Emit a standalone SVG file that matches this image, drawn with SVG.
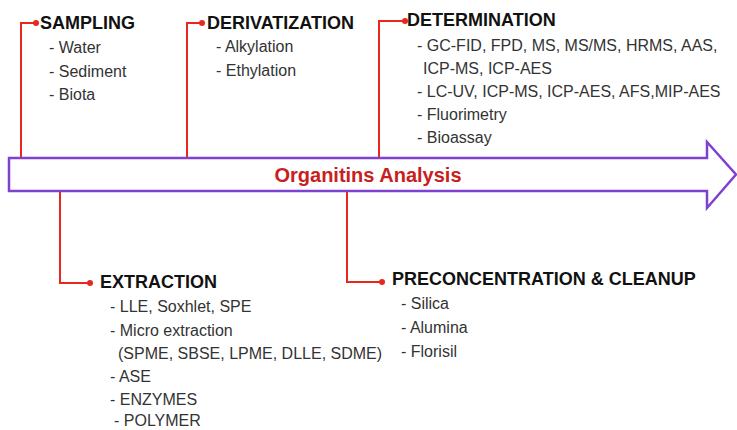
<svg xmlns="http://www.w3.org/2000/svg" width="737" height="430" viewBox="0 0 737 430">
<style>
.conn{fill:none;stroke:#e8281e;stroke-width:2}
.dot{fill:#e8281e}
.h{font-family:"Liberation Sans",Arial,sans-serif;font-weight:bold;font-size:18px;fill:#111}
.t{font-family:"Liberation Sans",Arial,sans-serif;font-size:16px;fill:#333}
.title{font-family:"Liberation Sans",Arial,sans-serif;font-weight:bold;font-size:20px;fill:#c8201e}
</style>
<rect width="737" height="430" fill="#fff"/>
<g id="connectors">
<polyline class="conn" points="21,158 21,23 36,23"/>
<circle class="dot" cx="36" cy="23" r="3"/>
<polyline class="conn" points="187,158 187,23 202,23"/>
<circle class="dot" cx="202" cy="23" r="3"/>
<polyline class="conn" points="379,160 379,21 405,21"/>
<circle class="dot" cx="405" cy="21" r="3"/>
<polyline class="conn" points="60,191 60,283 90,283"/>
<circle class="dot" cx="90" cy="283" r="3"/>
<polyline class="conn" points="347,191 347,282 382,282"/>
<circle class="dot" cx="382" cy="282" r="3"/>
</g>
<g id="arrow">
<polygon points="9,158 707,158 707,142 736,174.5 707,208 707,191 9,191" fill="#fff" stroke="#8040d0" stroke-width="2.5" stroke-linejoin="miter"/>
<text class="title" x="368" y="182" text-anchor="middle">Organitins Analysis</text>
</g>
<g id="sampling">
<text class="h" x="40" y="29">SAMPLING</text>
<text class="t" x="49" y="53">- Water</text>
<text class="t" x="49" y="77">- Sediment</text>
<text class="t" x="49" y="100">- Biota</text>
</g>
<g id="derivatization">
<text class="h" x="207" y="29">DERIVATIZATION</text>
<text class="t" x="216" y="52">- Alkylation</text>
<text class="t" x="216" y="76">- Ethylation</text>
</g>
<g id="determination">
<text class="h" x="407" y="26">DETERMINATION</text>
<text class="t" x="417" y="51">- GC-FID, FPD, MS, MS/MS, HRMS, AAS,</text>
<text class="t" x="423" y="74">ICP-MS, ICP-AES</text>
<text class="t" x="417" y="97">- LC-UV, ICP-MS, ICP-AES, AFS,MIP-AES</text>
<text class="t" x="417" y="120">- Fluorimetry</text>
<text class="t" x="417" y="143">- Bioassay</text>
</g>
<g id="extraction">
<text class="h" x="100" y="288">EXTRACTION</text>
<text class="t" x="110" y="312">- LLE, Soxhlet, SPE</text>
<text class="t" x="110" y="336">- Micro extraction</text>
<text class="t" x="118" y="359">(SPME, SBSE, LPME, DLLE, SDME)</text>
<text class="t" x="110" y="382">- ASE</text>
<text class="t" x="110" y="405">- ENZYMES</text>
<text class="t" x="114" y="426">- POLYMER</text>
</g>
<g id="preconcentration">
<text class="h" x="392" y="285">PRECONCENTRATION &amp; CLEANUP</text>
<text class="t" x="401" y="309">- Silica</text>
<text class="t" x="401" y="333">- Alumina</text>
<text class="t" x="401" y="357">- Florisil</text>
</g>
</svg>
